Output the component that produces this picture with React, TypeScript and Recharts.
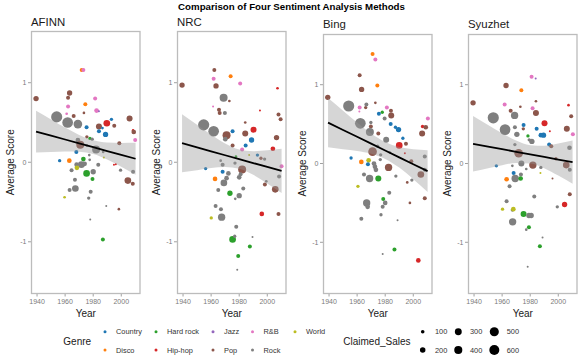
import React from 'react';
import { ComposedChart, Scatter, Area, Line, XAxis, YAxis, ZAxis, Cell } from 'recharts';

type Pt = [number, string, number, number];

const GENRES = ['Country', 'Disco', 'Hard rock', 'Hip-hop', 'Jazz', 'Pop', 'R&B', 'Rock', 'World'];
const GENRE_COLORS: Record<string, string> = {
    'Country': '#1f77b4',
    'Disco': '#ff7f0e',
    'Hard rock': '#2ca02c',
    'Hip-hop': '#d62728',
    'Jazz': '#9467bd',
    'Pop': '#8c564b',
    'R&B': '#e377c2',
    'Rock': '#7f7f7f',
    'World': '#bcbd22',
};
const SALES_BREAKS = [100, 200, 300, 400, 500, 600];
const YEAR_TICKS = [1940, 1960, 1980, 2000];
const SCORE_TICKS = [-1, 0, 1];

// smoothing band at these years
const BAND_YEARS = [1939.3, 1950, 1960, 1970, 1980, 1990, 2000, 2010.2];
const afinnFit = [0.386, 0.334, 0.286, 0.238, 0.19, 0.141, 0.093, 0.044];
const afinnLo = [0.124, 0.129, 0.136, 0.132, 0.104, 0.035, -0.057, -0.156];
const afinnHi = [0.648, 0.539, 0.436, 0.344, 0.276, 0.247, 0.243, 0.244];
const nrcFit = [0.239, 0.186, 0.137, 0.088, 0.039, -0.01, -0.059, -0.109];
const nrcLo = [-0.126, -0.1, -0.072, -0.06, -0.081, -0.158, -0.268, -0.388];
const nrcHi = [0.604, 0.472, 0.346, 0.236, 0.159, 0.138, 0.15, 0.17];
const bingFit = [0.519, 0.426, 0.339, 0.252, 0.165, 0.078, -0.009, -0.097];
const bingLo = [0.207, 0.181, 0.159, 0.124, 0.058, -0.052, -0.199, -0.363];
const bingHi = [0.831, 0.671, 0.519, 0.38, 0.272, 0.208, 0.181, 0.169];
const syuzhetFit = [0.25, 0.215, 0.182, 0.149, 0.116, 0.083, 0.05, 0.017];
const syuzhetLo = [-0.102, -0.06, -0.021, 0.006, -0.001, -0.06, -0.153, -0.258];
const syuzhetHi = [0.602, 0.49, 0.385, 0.292, 0.233, 0.226, 0.253, 0.292];

// [year, genre, claimed sales, average score]
const afinnPoints: Pt[] = [
    [1939.3, 'Pop', 189, 0.8], [1954.0, 'Rock', 740, 0.57], [1961.8, 'Rock', 680, 0.5],
    [1971.8, 'Disco', 117, 1.16], [1973.0, 'R&B', 117, 1.16], [1963.2, 'Pop', 189, 0.87],
    [1962.1, 'Pop', 117, 0.81], [1981.4, 'R&B', 117, 0.8], [1962.1, 'R&B', 117, 0.7],
    [1974.4, 'Disco', 117, 0.73], [1982.4, 'R&B', 150, 0.65], [1984.1, 'Jazz', 48, 0.64],
    [1961.1, 'R&B', 66, 0.61], [1966.1, 'Pop', 117, 0.58], [1973.4, 'Pop', 66, 0.62],
    [1969.1, 'Rock', 456, 0.48], [1975.3, 'Country', 117, 0.44], [1984.1, 'Pop', 232, 0.45],
    [1989.7, 'Hip-hop', 280, 0.49], [1993.0, 'Country', 89, 0.54], [1995.0, 'Pop', 117, 0.46],
    [1984.1, 'Country', 117, 0.39], [1986.6, 'Country', 66, 0.43], [1988.8, 'Country', 189, 0.35],
    [2005.9, 'Pop', 232, 0.55], [2008.4, 'Hip-hop', 66, 0.4], [2008.9, 'Pop', 150, 0.38],
    [2009.9, 'R&B', 117, 0.28], [1975.5, 'Pop', 89, 0.32], [1977.7, 'Hard rock', 89, 0.3],
    [1979.3, 'Rock', 89, 0.29], [1969.1, 'Rock', 150, 0.28], [1970.8, 'Pop', 393, 0.22],
    [1982.1, 'Rock', 393, 0.16], [1975.5, 'Rock', 66, 0.21], [1968.0, 'Country', 117, 0.13],
    [1977.2, 'Rock', 66, 0.09], [1977.5, 'Rock', 66, 0.03], [1987.1, 'Rock', 66, 0.13],
    [1987.6, 'World', 48, 0.06], [1998.6, 'Pop', 117, 0.24], [1956.1, 'Country', 89, 0.02],
    [1963.0, 'Disco', 150, 0.02], [1973.0, 'Hard rock', 150, 0.04], [1968.2, 'Rock', 150, -0.03],
    [1971.6, 'Rock', 280, -0.03], [1973.9, 'Rock', 150, -0.02], [1968.4, 'World', 150, -0.07],
    [1964.6, 'Rock', 117, -0.1], [1975.3, 'Hard rock', 280, -0.14], [1980.0, 'Rock', 189, -0.12],
    [1983.6, 'Rock', 117, -0.03], [1994.8, 'Hip-hop', 48, -0.03], [1996.1, 'Hip-hop', 48, -0.025],
    [1999.5, 'Rock', 89, -0.1], [2008.4, 'Rock', 117, -0.12], [1979.5, 'Hard rock', 117, -0.21],
    [1967.0, 'Rock', 117, -0.22], [2004.7, 'Pop', 280, -0.23], [2008.2, 'Pop', 117, -0.27],
    [1963.2, 'Rock', 117, -0.35], [1967.3, 'Rock', 280, -0.33], [1978.2, 'Rock', 117, -0.37],
    [1959.6, 'World', 66, -0.44], [1976.8, 'Rock', 89, -0.45], [1989.3, 'Rock', 48, -0.55],
    [1998.3, 'Pop', 66, -0.59], [1977.9, 'Rock', 48, -0.72], [1986.9, 'Hard rock', 117, -0.97],
];

const nrcPoints: Pt[] = [
    [1939.3, 'Pop', 189, 0.97], [1954.7, 'Rock', 740, 0.47], [1961.8, 'Rock', 680, 0.39],
    [1962.3, 'Pop', 117, 1.16], [1961.8, 'R&B', 117, 1.05], [1973.9, 'Disco', 117, 1.08],
    [1963.5, 'Pop', 189, 0.96], [1980.7, 'R&B', 117, 0.99], [2007.3, 'Hip-hop', 66, 0.93],
    [1968.9, 'Rock', 393, 0.81], [1973.0, 'Pop', 66, 0.77], [1961.4, 'R&B', 48, 0.7],
    [1965.6, 'Pop', 117, 0.66], [1966.1, 'Pop', 117, 0.62], [1969.8, 'Rock', 117, 0.62],
    [1994.8, 'Hip-hop', 48, 0.65], [2008.0, 'Pop', 117, 0.6], [2009.5, 'Pop', 117, 0.54],
    [1984.3, 'Pop', 66, 0.5], [1975.3, 'Country', 117, 0.39], [1990.2, 'Hip-hop', 232, 0.41],
    [1984.3, 'Pop', 232, 0.36], [1971.0, 'Pop', 393, 0.34], [1970.1, 'Rock', 150, 0.29],
    [1988.8, 'Country', 189, 0.28], [2006.6, 'Pop', 189, 0.31], [2004.0, 'Hip-hop', 150, 0.17],
    [1984.6, 'Country', 117, 0.21], [1982.1, 'R&B', 117, 0.16], [1975.3, 'Pop', 117, 0.21],
    [1977.7, 'Hard rock', 66, 0.07], [1987.1, 'World', 48, 0.09], [1993.0, 'Country', 89, 0.09],
    [1966.8, 'Rock', 66, 0.02], [1968.2, 'Rock', 117, -0.03], [1977.0, 'Rock', 89, -0.01],
    [1995.5, 'Pop', 89, 0.05], [1998.1, 'Rock', 89, 0.04], [2010.2, 'R&B', 117, -0.05],
    [1956.1, 'Country', 89, -0.08], [1982.1, 'Pop', 393, -0.09], [1968.2, 'Country', 117, -0.12],
    [1972.3, 'Rock', 150, -0.14], [1971.0, 'Rock', 150, -0.2], [1969.1, 'Rock', 280, -0.26],
    [1980.0, 'Rock', 150, -0.19], [1981.0, 'Rock', 117, -0.15], [1962.8, 'Disco', 150, -0.21],
    [1999.3, 'Rock', 66, -0.24], [1998.3, 'Pop', 117, -0.28], [2008.4, 'Rock', 117, -0.18],
    [2005.7, 'Pop', 280, -0.34], [1965.1, 'Rock', 117, -0.35], [1982.9, 'Rock', 117, -0.33],
    [1973.4, 'Hard rock', 189, -0.39], [1980.0, 'Rock', 189, -0.42], [1977.2, 'Rock', 66, -0.46],
    [1963.2, 'Rock', 117, -0.55], [1967.0, 'Rock', 117, -0.59], [1967.5, 'Rock', 335, -0.69],
    [1960.1, 'World', 89, -0.7], [1996.1, 'Hip-hop', 150, -0.65], [2008.0, 'Pop', 117, -0.65],
    [1977.9, 'Rock', 117, -0.81], [1975.3, 'Hard rock', 280, -0.97], [1976.8, 'Rock', 89, -0.93],
    [1989.5, 'Rock', 48, -0.94], [1987.6, 'Hard rock', 117, -1.06], [1979.3, 'Hard rock', 117, -1.18],
    [1978.6, 'Rock', 48, -1.35],
];

const bingPoints: Pt[] = [
    [1939.1, 'Pop', 189, 0.84], [1954.0, 'Rock', 740, 0.73], [1962.3, 'Rock', 680, 0.51],
    [1971.0, 'Disco', 117, 1.39], [1973.0, 'R&B', 117, 1.32], [1961.8, 'Pop', 117, 1.12],
    [1963.2, 'Pop', 189, 0.94], [1974.4, 'Disco', 117, 0.99], [1961.8, 'R&B', 117, 0.71],
    [1961.6, 'R&B', 48, 0.66], [1966.1, 'Pop', 89, 0.71], [1966.6, 'Rock', 117, 0.75],
    [1973.0, 'Pop', 66, 0.77], [1981.2, 'R&B', 117, 0.71], [1984.1, 'Pop', 117, 0.67],
    [1984.3, 'Pop', 232, 0.61], [1977.9, 'Hard rock', 89, 0.65], [1975.5, 'Country', 117, 0.63],
    [1979.6, 'Rock', 117, 0.57], [1969.8, 'Pop', 117, 0.47], [1969.8, 'Rock', 89, 0.52],
    [1983.9, 'Country', 117, 0.5], [1987.3, 'Country', 89, 0.46], [1989.5, 'Country', 189, 0.43],
    [1969.1, 'Rock', 393, 0.4], [1975.1, 'Pop', 117, 0.38], [2010.4, 'R&B', 117, 0.57],
    [2006.6, 'Hip-hop', 89, 0.47], [2008.9, 'Pop', 150, 0.46], [2006.3, 'Pop', 232, 0.38],
    [1992.6, 'Country', 89, 0.32], [1980.7, 'Rock', 232, 0.3], [1990.0, 'Hip-hop', 280, 0.23],
    [1994.8, 'Pop', 117, 0.25], [1971.0, 'Pop', 456, 0.15], [1974.6, 'Rock', 89, 0.22],
    [1994.0, 'Hip-hop', 48, 0.13], [1976.8, 'Rock', 89, 0.11], [1976.5, 'Rock', 89, 0.05],
    [1983.4, 'Rock', 66, 0.14], [1998.6, 'Pop', 117, 0.03], [2008.2, 'Rock', 117, 0.09],
    [1955.7, 'Country', 89, 0.07], [1963.0, 'Disco', 150, 0.02], [1968.2, 'World', 150, 0.04],
    [1967.7, 'Country', 117, -0.01], [1972.0, 'Rock', 150, 0.0], [1972.7, 'Rock', 150, -0.04],
    [1973.4, 'Rock', 150, -0.08], [1982.4, 'Pop', 335, -0.05], [1964.9, 'Rock', 117, -0.14],
    [1968.9, 'Rock', 335, -0.19], [1975.1, 'Hard rock', 232, -0.19], [1987.6, 'Rock', 89, -0.16],
    [1999.0, 'Rock', 89, -0.21], [1995.7, 'Pop', 66, -0.24], [2005.4, 'Pop', 280, -0.14],
    [2008.2, 'Rock', 117, -0.08], [1982.9, 'Rock', 117, -0.37], [1960.6, 'World', 89, -0.29],
    [2008.2, 'Pop', 117, -0.44], [1978.6, 'Hard rock', 117, -0.45], [1980.0, 'Rock', 150, -0.5],
    [1978.2, 'Rock', 117, -0.55], [1966.8, 'Rock', 335, -0.5], [1967.5, 'Rock', 150, -0.55],
    [1997.6, 'Pop', 66, -0.5], [1977.0, 'Rock', 89, -0.65], [1963.0, 'Rock', 117, -0.7],
    [1988.8, 'Rock', 48, -0.72], [1986.6, 'Hard rock', 117, -1.09], [1978.2, 'Rock', 48, -1.15],
    [2003.6, 'Hip-hop', 150, -1.23],
];

const syuzhetPoints: Pt[] = [
    [1939.3, 'Pop', 189, 0.77], [1953.7, 'Rock', 740, 0.58], [1962.1, 'Rock', 680, 0.43],
    [1981.0, 'R&B', 117, 1.1], [1983.9, 'Jazz', 48, 1.08], [1962.8, 'Pop', 189, 0.99],
    [1973.7, 'Disco', 117, 0.93], [1961.8, 'R&B', 117, 0.75], [1973.0, 'Pop', 66, 0.72],
    [1984.1, 'Pop', 66, 0.79], [2007.3, 'Hip-hop', 66, 0.74], [1981.7, 'R&B', 117, 0.7],
    [1984.1, 'Pop', 232, 0.64], [1966.1, 'Pop', 117, 0.67], [1968.9, 'Rock', 335, 0.61],
    [2009.2, 'Pop', 117, 0.6], [1969.1, 'Rock', 117, 0.46], [1975.3, 'Country', 117, 0.49],
    [1975.1, 'Pop', 89, 0.44], [1990.2, 'Hip-hop', 232, 0.51], [1994.0, 'Hip-hop', 48, 0.41],
    [1984.6, 'Country', 117, 0.44], [2006.1, 'Pop', 232, 0.44], [2010.4, 'R&B', 117, 0.37],
    [1970.5, 'Rock', 189, 0.37], [1987.6, 'Country', 150, 0.36], [1989.5, 'Country', 189, 0.36],
    [1978.4, 'Hard rock', 89, 0.35], [1979.3, 'Rock', 89, 0.3], [1981.2, 'Rock', 189, 0.28],
    [1969.1, 'Rock', 89, 0.24], [1993.5, 'Country', 117, 0.24], [1995.0, 'Pop', 117, 0.22],
    [2008.0, 'Rock', 150, 0.2], [1971.8, 'Pop', 456, 0.13], [1973.7, 'Rock', 232, 0.0],
    [1981.9, 'Pop', 335, -0.02], [1977.2, 'Rock', 66, -0.07], [1967.3, 'Rock', 66, -0.03],
    [1987.6, 'Rock', 89, -0.05], [1998.3, 'Pop', 89, 0.06], [1955.9, 'Country', 89, -0.03],
    [2005.7, 'Pop', 280, -0.02], [2008.2, 'Rock', 117, -0.08], [1987.3, 'World', 48, -0.12],
    [1968.2, 'Country', 117, -0.12], [1973.4, 'Rock', 117, -0.14], [1969.3, 'Rock', 335, -0.19],
    [1973.2, 'Hard rock', 150, -0.19], [1963.2, 'Disco', 150, -0.2], [1995.9, 'Pop', 48, -0.19],
    [1965.3, 'Rock', 117, -0.29], [2008.2, 'Pop', 117, -0.39], [1982.9, 'Rock', 117, -0.42],
    [1963.2, 'Rock', 117, -0.48], [2004.5, 'Hip-hop', 189, -0.52], [1999.3, 'Rock', 89, -0.55],
    [1960.3, 'World', 89, -0.58], [1967.3, 'Rock', 89, -0.59], [1968.0, 'World', 150, -0.58],
    [1975.3, 'Hard rock', 232, -0.64], [1979.1, 'Rock', 189, -0.66], [1980.7, 'Rock', 189, -0.66],
    [1967.5, 'Rock', 335, -0.74], [1979.1, 'Hard rock', 117, -0.81], [1977.2, 'Rock', 66, -0.84],
    [1988.8, 'Rock', 48, -0.94], [1986.9, 'Hard rock', 117, -1.05], [1978.2, 'Rock', 48, -1.31],
];

const X_DOMAIN: [number, number] = [1935.7, 2013.7];
const Y_DOMAIN: [number, number] = [-1.65, 1.65];
// point area in px^2 per unit of claimed sales (matches the size legend)
const SIZE_K = 0.1367;
const SIZE_ZERO = 25;
const MAX_SALES = Math.max(
    ...[afinnPoints, nrcPoints, bingPoints, syuzhetPoints].flatMap(pts => pts.map(p => p[2]))
);
const legendRadius = (s: number) => Math.sqrt((SIZE_K * (s - SIZE_ZERO)) / Math.PI);

const FONT = '"Liberation Sans", Arial, sans-serif';
const TICK_COLOR = '#7a7a7a';
const FRAME_COLOR = '#bcbcbc';
const CHART_W = 146;
const CHART_H = 322;
const AXIS_W = 31;
const RIGHT_PAD = 5.5;
const BOTTOM_PAD = 4.5;
const XAXIS_H = 24;
const PLOT_BOTTOM = CHART_H - BOTTOM_PAD - XAXIS_H;

interface PanelProps {
    points: Pt[];
    fit: number[];
    lo: number[];
    hi: number[];
    left: number;
    top: number;
}

const Panel: React.FC<PanelProps> = ({ points, fit, lo, hi, left, top }) => {
    const band = BAND_YEARS.map((year, i) => ({ year, fit: fit[i], range: [lo[i], hi[i]] }));
    const data = points.map(([year, genre, sales, score]) => ({ year, genre, sales, score }));

    return (
        <div style={{ position: 'absolute', left, top: 0, width: CHART_W, height: CHART_H }}>
            <ComposedChart width={CHART_W} height={CHART_H} data={band} margin={{ top, right: RIGHT_PAD, bottom: BOTTOM_PAD, left: 0 }}>
                <XAxis
                    type="number"
                    dataKey="year"
                    domain={X_DOMAIN}
                    allowDataOverflow
                    ticks={YEAR_TICKS}
                    interval={0}
                    height={XAXIS_H}
                    axisLine={false}
                    stroke={TICK_COLOR}
                    tickSize={3}
                    tickMargin={2.5}
                    tickLine={{ stroke: '#a0a0a0', strokeWidth: 1 }}
                    tick={{ fontSize: 7, fill: TICK_COLOR }}
                    label={{ value: 'Year', position: 'insideBottom', offset: 0.5, fontSize: 10, fill: '#1a1a1a' }}
                />
                <YAxis
                    type="number"
                    dataKey="score"
                    domain={Y_DOMAIN}
                    allowDataOverflow
                    ticks={SCORE_TICKS}
                    interval={0}
                    width={AXIS_W}
                    axisLine={false}
                    stroke={TICK_COLOR}
                    tickSize={3}
                    tickMargin={1.5}
                    tickLine={{ stroke: '#a0a0a0', strokeWidth: 1 }}
                    tick={{ fontSize: 7, fill: TICK_COLOR }}
                    label={{ value: 'Average Score', angle: -90, position: 'insideLeft', offset: 10, fontSize: 10, fill: '#1a1a1a', style: { textAnchor: 'middle' } }}
                />
                <ZAxis type="number" dataKey="sales" domain={[SIZE_ZERO, MAX_SALES]} range={[0, SIZE_K * (MAX_SALES - SIZE_ZERO)]} />
                <Scatter data={data} shape="circle" isAnimationActive={false}>
                    {data.map((d, i) => (
                        <Cell key={`pt-${i}`} fill={GENRE_COLORS[d.genre]} />
                    ))}
                </Scatter>
                <Area dataKey="range" type="monotone" stroke="none" fill="#999999" fillOpacity={0.4} isAnimationActive={false} zIndex={700} />
                <Line dataKey="fit" type="linear" stroke="#000000" strokeWidth={1.8} dot={false} activeDot={false} isAnimationActive={false} zIndex={800} />
            </ComposedChart>
        </div>
    );
};

const PANELS = [
    { title: 'AFINN', points: afinnPoints, fit: afinnFit, lo: afinnLo, hi: afinnHi, left: 0, top: 31, base: 26 },
    { title: 'NRC', points: nrcPoints, fit: nrcFit, lo: nrcLo, hi: nrcHi, left: 146, top: 31, base: 26 },
    { title: 'Bing', points: bingPoints, fit: bingFit, lo: bingLo, hi: bingHi, left: 292, top: 33.5, base: 27.5 },
    { title: 'Syuzhet', points: syuzhetPoints, fit: syuzhetFit, lo: syuzhetLo, hi: syuzhetHi, left: 437, top: 33.5, base: 27.5 },
];

const GENRE_DOT_X = [105, 156, 213, 252.5, 295];
const SIZE_DOT_X = [422.7, 458.3, 494.3];
const SIZE_LABEL_X = [435, 470, 506.7];
const LEGEND_ROWS = [331.7, 350];

export default function App() {
    return (
        <div style={{ position: 'absolute', left: 0, top: 0, width: 584, height: 360, background: '#ffffff', fontFamily: FONT, overflow: 'hidden' }}>
            {PANELS.map(p => (
                <Panel key={p.title} points={p.points} fit={p.fit} lo={p.lo} hi={p.hi} left={p.left} top={p.top} />
            ))}
            <svg width={584} height={360} style={{ position: 'absolute', left: 0, top: 0, pointerEvents: 'none' }} fontFamily={FONT}>
                {/* panel frames */}
                {PANELS.map(p => (
                    <rect
                        key={`frame-${p.title}`}
                        x={p.left + AXIS_W + 0.5}
                        y={Math.round(p.top) + 0.5}
                        width={CHART_W - AXIS_W - RIGHT_PAD - 1}
                        height={Math.round(PLOT_BOTTOM - p.top) - 1}
                        fill="none"
                        stroke={FRAME_COLOR}
                        strokeWidth={1.3}
                    />
                ))}
                <text x={291.5} y={10.2} textAnchor="middle" fontSize={9.7} fontWeight="bold" fill="#000">
                    Comparison of Four Sentiment Analysis Methods
                </text>
                {PANELS.map(p => (
                    <text key={p.title} x={p.left + AXIS_W} y={p.base} fontSize={11.4} fill="#1a1a1a">{p.title}</text>
                ))}

                <text x={63.3} y={344.5} fontSize={10} fill="#1a1a1a">Genre</text>
                {GENRES.map((g, i) => {
                    const cx = GENRE_DOT_X[Math.floor(i / 2)];
                    const cy = LEGEND_ROWS[i % 2];
                    return (
                        <g key={g}>
                            <circle cx={cx} cy={cy} r={1.5} fill={GENRE_COLORS[g]} />
                            <text x={cx + 11} y={cy + 2.7} fontSize={7.4} fill="#333">{g}</text>
                        </g>
                    );
                })}

                <text x={343.3} y={344.5} fontSize={10} fill="#1a1a1a">Claimed_Sales</text>
                {SALES_BREAKS.map((s, i) => {
                    const col = Math.floor(i / 2);
                    const cy = LEGEND_ROWS[i % 2];
                    return (
                        <g key={s}>
                            <circle cx={SIZE_DOT_X[col]} cy={cy} r={legendRadius(s)} fill="#000" />
                            <text x={SIZE_LABEL_X[col]} y={cy + 2.6} fontSize={7.4} fill="#333">{s}</text>
                        </g>
                    );
                })}
            </svg>
        </div>
    );
}
